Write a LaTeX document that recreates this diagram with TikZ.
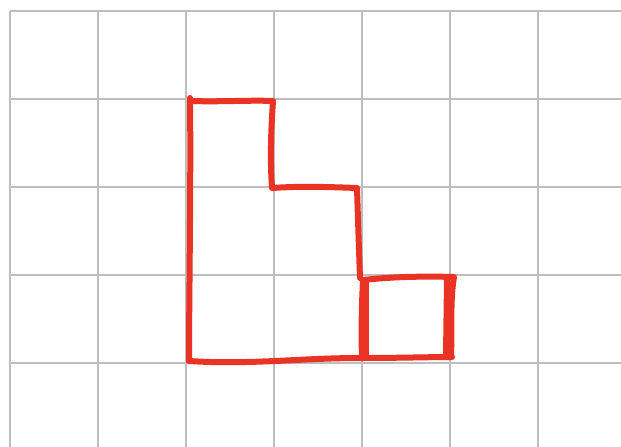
\documentclass[tikz,border=0pt]{standalone}
\definecolor{gridgray}{HTML}{BEBEBE}
\definecolor{penred}{HTML}{EA3324}
\tikzset{
  gridline/.style={draw=gridgray, line width=2.5pt},
  pen/.style={draw=penred, line width=6pt, line cap=round, line join=round}
}
\begin{document}
\begin{tikzpicture}[x=1pt,y=-1pt]
\useasboundingbox (0,0) rectangle (621,447);
\fill[white] (0,0) rectangle (621,447);
% grid
\foreach \x in {10,98,186,274,362,450,538}
  \draw[gridline] (\x,11) -- (\x,447);
\foreach \y in {11,99,187,275,363}
  \draw[gridline] (10,\y) -- (621,\y);
% red outline
\draw[pen] (190,98) .. controls (191,180) and (189,300) .. (189,361);
\draw[pen] (191,101) .. controls (220,102) and (250,100) .. (273,101)
  .. controls (271,130) and (270,160) .. (272,188)
  .. controls (300,186) and (330,187) .. (357,188)
  .. controls (358,220) and (359,250) .. (360,278);
\draw[pen] (189,361) .. controls (250,365) and (300,358) .. (360,358)
  .. controls (400,358) and (430,357) .. (452,357);
\draw[pen] (362,357) .. controls (361,330) and (362,300) .. (363,280)
  .. controls (390,277) and (420,276) .. (454,277)
  .. controls (450,300) and (452,330) .. (451,357);
\draw[pen] (366,282) -- (366,356);
\draw[pen] (447,280) -- (446,355);
\end{tikzpicture}
\end{document}
